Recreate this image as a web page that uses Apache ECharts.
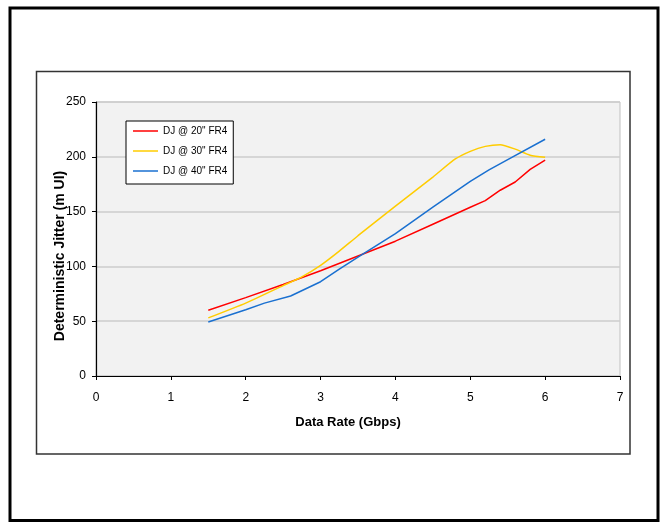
<!DOCTYPE html>
<html>
<head>
<meta charset="utf-8">
<script src="https://cdn.jsdelivr.net/npm/echarts@6/dist/echarts.min.js"></script>
<style>
html,body{margin:0;padding:0;background:#fff;}
#chart{width:662px;height:523px;}
</style>
</head>
<body>
<div id="chart"></div>
<script>
// ---- data ----
const seriesNames = ['DJ @ 20" FR4', 'DJ @ 30" FR4', 'DJ @ 40" FR4'];
const redX = [1.5, 2, 2.5, 3, 3.5, 4, 4.5, 5, 5.2, 5.4, 5.6, 5.8, 6];
const redY = [60, 71.5, 83.5, 96, 109.5, 123, 138.5, 154, 160, 169.5, 177, 188.5, 197];
const yellowX = [1.5, 2, 2.5, 2.75, 3, 3.25, 3.5, 4, 4.5, 4.8, 5, 5.2, 5.4, 5.6, 5.8, 6];
const yellowY = [53, 66.5, 82.5, 90.5, 101, 114, 128, 155, 181.5, 198, 205, 209.5, 211, 207, 201.5, 199.5];
const blueX = [1.5, 2, 2.25, 2.6, 3, 3.25, 3.5, 4, 4.5, 5, 5.25, 5.5, 6];
const blueY = [49.3, 60.5, 66.5, 73, 86, 97.5, 108.5, 130, 154, 177.5, 188, 197.5, 216];
const xTitle = 'Data Rate (Gbps)';
const yTitle = 'Deterministic Jitter (m UI)';

function pairs(xs, ys) { return xs.map((x, i) => [x, ys[i]]); }

const chart = echarts.init(document.getElementById('chart'), null, {renderer: 'canvas'});
const font = 'Liberation Sans, Arial, sans-serif';

chart.setOption({
  animation: false,
  backgroundColor: '#ffffff',
  textStyle: {fontFamily: font},
  grid: {
    left: 96, top: 102, right: 42, bottom: 147,
    show: true, backgroundColor: '#f2f2f2', borderColor: '#c0c0c0', borderWidth: 1
  },
  legend: {
    orient: 'vertical', left: 126, top: 121,
    padding: [4, 6, 7, 7],
    icon: 'rect',
    itemWidth: 25, itemHeight: 1.5, itemGap: 8,
    backgroundColor: '#ffffff', borderColor: '#000000', borderWidth: 1,
    textStyle: {fontFamily: font, fontSize: 10, color: '#000', lineHeight: 12},
    data: seriesNames
  },
  xAxis: {
    type: 'value', min: 0, max: 7, interval: 1,
    name: xTitle, nameLocation: 'middle', nameGap: 40,
    nameTextStyle: {fontFamily: font, fontSize: 13, fontWeight: 'bold', color: '#000', padding: [0, 20, 0, 0]},
    axisLine: {show: true, onZero: false, lineStyle: {color: '#000', width: 1.2}},
    axisTick: {show: true, length: 4, lineStyle: {color: '#000'}},
    axisLabel: {fontFamily: font, fontSize: 12, color: '#000', margin: 16},
    splitLine: {show: false}
  },
  yAxis: {
    type: 'value', min: 0, max: 250, interval: 50,
    axisLine: {show: true, lineStyle: {color: '#000', width: 1.2}},
    axisTick: {show: true, length: 4, lineStyle: {color: '#000'}},
    axisLabel: {fontFamily: font, fontSize: 12, color: '#000', margin: 10},
    splitLine: {show: true, lineStyle: {color: '#cccccc', width: 1.5}}
  },
  graphic: [
    {type: 'rect', shape: {x: 10, y: 8, width: 648, height: 512.5},
     style: {fill: 'none', stroke: '#000', lineWidth: 3}, silent: true},
    {type: 'rect', shape: {x: 36.5, y: 71.5, width: 593.5, height: 382.5},
     style: {fill: 'none', stroke: '#333', lineWidth: 1.5}, silent: true},
    {type: 'text', x: 60, y: 256, rotation: Math.PI / 2,
     style: {text: yTitle, font: 'bold 14px ' + font, fill: '#000', align: 'center', verticalAlign: 'middle'},
     silent: true}
  ],
  series: [
    {name: seriesNames[0], type: 'line', data: pairs(redX, redY), symbol: 'none',
     lineStyle: {color: '#ff0000', width: 1.5}, itemStyle: {color: '#ff0000'}},
    {name: seriesNames[1], type: 'line', data: pairs(yellowX, yellowY), symbol: 'none', smooth: 0.2,
     lineStyle: {color: '#ffcc00', width: 1.5}, itemStyle: {color: '#ffcc00'}},
    {name: seriesNames[2], type: 'line', data: pairs(blueX, blueY), symbol: 'none',
     lineStyle: {color: '#1a70d0', width: 1.5}, itemStyle: {color: '#1a70d0'}}
  ]
});
</script>
</body>
</html>
